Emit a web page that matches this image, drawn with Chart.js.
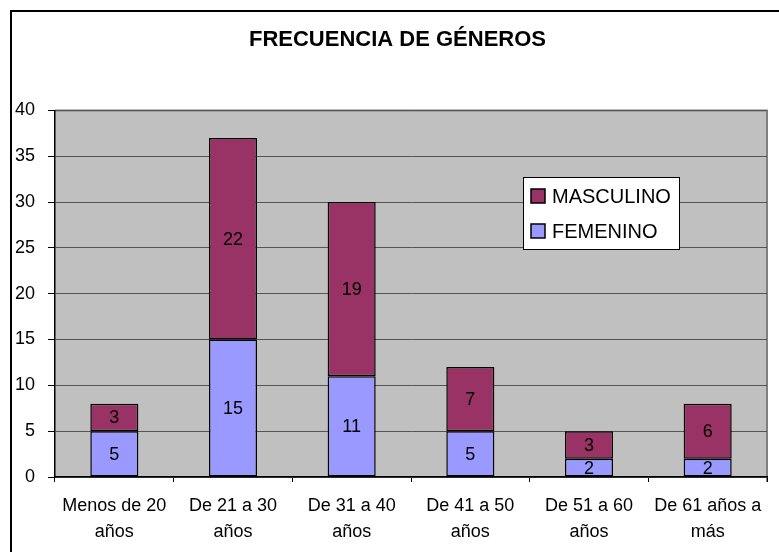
<!DOCTYPE html>
<html>
<head>
<meta charset="utf-8">
<script src="https://cdn.jsdelivr.net/npm/chart.js@4"></script>
<style>
  html, body { margin: 0; padding: 0; overflow: hidden; background: #fff; }
  #wrap { position: absolute; left: 0; top: 0; width: 795px; height: 552px; }
  #frame { position: absolute; left: 10px; top: 10px; width: 773px; height: 600px; border: 2px solid #000; }
</style>
</head>
<body>
<div id="frame"></div>
<div id="wrap"><canvas id="chart1"></canvas></div>
<script>
// datos
const categorias = [
  ["Menos de 20", "años"],
  ["De 21 a 30", "años"],
  ["De 31 a 40", "años"],
  ["De 41 a 50", "años"],
  ["De 51 a 60", "años"],
  ["De 61 años a", "más"]
];
const femenino = [5, 15, 11, 5, 2, 2];
const masculino = [3, 22, 19, 7, 3, 6];
const titulo = "FRECUENCIA DE GÉNEROS";

Chart.defaults.font.family = "'Liberation Sans', Arial, sans-serif";
Chart.defaults.color = "#000";

// fondo gris del area de trazado
const plotBg = {
  id: "plotBg",
  afterLayout(chart) {
    // el titulo va centrado sobre el marco entero, no sobre el area
    const t = chart.titleBlock;
    if (t) { t.left += 14; t.right += 14; }
  },
  beforeDraw(chart) {
    const a = chart.chartArea, ctx = chart.ctx;
    ctx.save();
    ctx.fillStyle = "#C0C0C0";
    ctx.fillRect(a.left, a.top, a.right - a.left, a.bottom - a.top);
    ctx.strokeStyle = "#808080";
    ctx.lineWidth = 2;
    ctx.beginPath();
    ctx.moveTo(a.left, a.top);
    ctx.lineTo(a.right, a.top);
    ctx.lineTo(a.right, a.bottom + 5);
    ctx.stroke();
    ctx.restore();
  }
};

// etiquetas de valor en el centro de cada barra
const valueLabels = {
  id: "valueLabels",
  afterDatasetsDraw(chart) {
    const ctx = chart.ctx;
    ctx.save();
    ctx.font = "18px 'Liberation Sans', Arial, sans-serif";
    ctx.fillStyle = "#000";
    ctx.textAlign = "center";
    ctx.textBaseline = "middle";
    chart.data.datasets.forEach((ds, i) => {
      chart.getDatasetMeta(i).data.forEach((bar, j) => {
        const c = bar.getCenterPoint();
        ctx.fillText(ds.data[j], c.x, c.y + 1);
      });
    });
    ctx.restore();
  }
};

// leyenda dentro del area, estilo Excel
const boxLegend = {
  id: "boxLegend",
  afterDraw(chart) {
    const ctx = chart.ctx;
    const x = 523, y = 177, w = 156, h = 72;
    ctx.save();
    ctx.fillStyle = "#fff";
    ctx.fillRect(x, y, w, h);
    ctx.strokeStyle = "#000";
    ctx.lineWidth = 1;
    ctx.strokeRect(x + 0.5, y + 0.5, w, h);
    const items = [chart.data.datasets[1], chart.data.datasets[0]];
    ctx.font = "20px 'Liberation Sans', Arial, sans-serif";
    ctx.textBaseline = "middle";
    items.forEach((ds, k) => {
      const cy = y + 19 + k * 35;
      ctx.fillStyle = ds.backgroundColor;
      ctx.fillRect(x + 8, cy - 7, 14, 14);
      ctx.strokeStyle = "#000";
      ctx.lineWidth = 1.5;
      ctx.strokeRect(x + 8, cy - 7, 14, 14);
      ctx.fillStyle = "#000";
      ctx.fillText(ds.label, x + 29, cy + 1);
    });
    ctx.restore();
  }
};

const ctx = document.getElementById("chart1").getContext("2d");
const myChart = new Chart(ctx, {
  type: "bar",
  data: {
    labels: categorias,
    datasets: [
      {
        label: "FEMENINO",
        data: femenino,
        backgroundColor: "#9999FF",
        borderColor: "#000",
        borderWidth: 1.5,
        borderSkipped: false,
        barPercentage: 1,
        categoryPercentage: 0.405
      },
      {
        label: "MASCULINO",
        data: masculino,
        backgroundColor: "#993366",
        borderColor: "#000",
        borderWidth: 1.5,
        borderSkipped: false,
        barPercentage: 1,
        categoryPercentage: 0.405
      }
    ]
  },
  options: {
    responsive: true,
    maintainAspectRatio: false,
    animation: false,
    layout: { padding: { left: 0, right: 28, top: 0, bottom: 0 } },
    plugins: {
      legend: { display: false },
      tooltip: { enabled: false },
      title: {
        display: true,
        text: titulo,
        font: { size: 22, weight: "bold" },
        color: "#000",
        padding: { top: 27, bottom: 57 }
      }
    },
    scales: {
      x: {
        stacked: true,
        grid: {
          offset: true,
          drawOnChartArea: false,
          drawTicks: true,
          tickLength: 5,
          tickColor: "#000"
        },
        border: { color: "#000", width: 1.5 },
        ticks: {
          font: { size: 18, lineHeight: 1.45 },
          color: "#000",
          maxRotation: 0,
          padding: 11
        },
        afterFit(scale) { scale.height = 75; }
      },
      y: {
        stacked: true,
        min: 0,
        max: 40,
        grid: {
          color: "#555",
          lineWidth: 1,
          tickLength: 7,
          tickColor: "#000"
        },
        border: { color: "#000", width: 1.5 },
        ticks: {
          stepSize: 5,
          font: { size: 18 },
          color: "#000",
          padding: 13
        },
        afterFit(scale) { scale.width = 55; }
      }
    }
  },
  plugins: [plotBg, valueLabels, boxLegend]
});
</script>
</body>
</html>
